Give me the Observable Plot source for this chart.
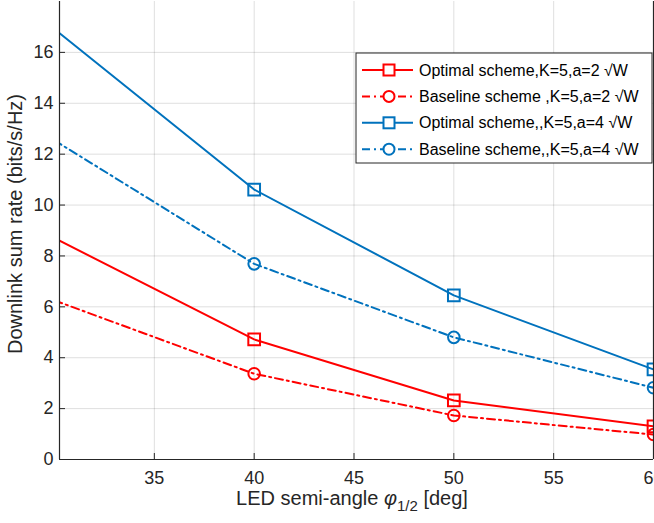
<!DOCTYPE html>
<html><head><meta charset="utf-8">
<script src="https://cdn.jsdelivr.net/npm/d3@7"></script>
<script src="https://cdn.jsdelivr.net/npm/@observablehq/plot@0.6"></script>
<style>
body{margin:0;background:#fff}
svg{font-family:"Liberation Sans",Arial,Helvetica,sans-serif}
</style>
</head><body><div id="chart"></div>
<script>
// LED semi-angle (deg)
const angles = [30, 40, 50, 60];
// Downlink sum rate (bits/s/Hz)
const optimalA2  = [8.70, 4.72, 2.32, 1.30];
const baselineA2 = [6.25, 3.37, 1.73, 0.98];
const optimalA4  = [16.91, 10.61, 6.45, 3.54];
const baselineA4 = [12.54, 7.69, 4.80, 2.82];
const seriesNames = [
  "Optimal scheme,K=5,a=2 \u221AW",
  "Baseline scheme ,K=5,a=2 \u221AW",
  "Optimal scheme,,K=5,a=4 \u221AW",
  "Baseline scheme,,K=5,a=4 \u221AW"
];
const xTicks = [35, 40, 45, 50, 55, 60];
const yTicks = [0, 2, 4, 6, 8, 10, 12, 14, 16];
const xDomain = [30.25, 60];
const yDomain = [0, 18];

const RED = "#ff0000", BLUE = "#0072bd", DASHDOT = "8,4,2,4";
const series = [
  {name: seriesNames[0], values: optimalA2,  color: RED,  dash: null,    symbol: "square"},
  {name: seriesNames[1], values: baselineA2, color: RED,  dash: DASHDOT, symbol: "circle"},
  {name: seriesNames[2], values: optimalA4,  color: BLUE, dash: null,    symbol: "square"},
  {name: seriesNames[3], values: baselineA4, color: BLUE, dash: DASHDOT, symbol: "circle"}
];
const rows = series.map(s => angles.map((x, j) => ({x, y: s.values[j]})));

const marks = [
  Plot.gridX(xTicks, {stroke: "#000", strokeOpacity: 0.13, strokeWidth: 1}),
  Plot.gridY(yTicks.filter(d => d > 0), {stroke: "#000", strokeOpacity: 0.13, strokeWidth: 1})
];
series.forEach((s, i) => {
  marks.push(Plot.line(rows[i], {x: "x", y: "y", stroke: s.color, strokeWidth: 2,
    strokeDasharray: s.dash, clip: true}));
  marks.push(Plot.dot(rows[i].filter(d => d.x >= xDomain[0]), {x: "x", y: "y", symbol: s.symbol,
    r: s.symbol === "square" ? 6.6 : 5.8, stroke: s.color, strokeWidth: 2, fill: "none"}));
});
marks.push(
  Plot.ruleX(xDomain, {stroke: "#262626", strokeWidth: 1.2}),
  Plot.ruleY([yDomain[0]], {stroke: "#262626", strokeWidth: 1.2}),
  Plot.axisX(xTicks, {tickSize: -6, tickPadding: 18, fontSize: 18, label: null}),
  Plot.axisY(yTicks, {tickSize: -6, tickPadding: 12, fontSize: 18, label: null})
);

const chart = Plot.plot({
  width: 654, height: 523,
  marginLeft: 59, marginRight: 1, marginTop: 1, marginBottom: 64,
  x: {domain: xDomain},
  y: {domain: yDomain},
  style: {fontFamily: "'Liberation Sans', Arial, sans-serif", fontSize: "18px", color: "#262626", background: "#fff"},
  marks
});
document.getElementById("chart").appendChild(chart);

const svg = d3.select(chart);
const xr = chart.scale("x").range, yr = chart.scale("y").range;
const cx = (xr[0] + xr[1]) / 2, cy = (yr[0] + yr[1]) / 2;

// x label with subscript
const xl = svg.append("text").attr("x", cx - 4).attr("y", 505)
  .attr("text-anchor", "middle").attr("fill", "#262626").style("font-size", "20px");
xl.append("tspan").text("LED semi-angle ");
xl.append("tspan").attr("font-style", "italic").text("\u03C6");
xl.append("tspan").attr("font-size", "15px").attr("dy", 6).text("1/2");
xl.append("tspan").attr("dy", -6).text(" [deg]");

// y label
svg.append("text").attr("transform", `translate(22,${cy - 6}) rotate(-90)`)
  .attr("text-anchor", "middle").attr("fill", "#262626").style("font-size", "20px")
  .text("Downlink sum rate (bits/s/Hz)");

// legend
const lx = 356, ly = 53, lw = 296, lh = 110;
const lg = svg.append("g").attr("text-anchor", "start");
lg.append("rect").attr("x", lx).attr("y", ly).attr("width", lw).attr("height", lh)
  .attr("fill", "#fff").attr("stroke", "#262626").attr("stroke-width", 1);
series.forEach((s, i) => {
  const y = ly + 17 + i * 26.4;
  lg.append("line").attr("x1", lx + 6).attr("x2", lx + 57).attr("y1", y).attr("y2", y)
    .attr("stroke", s.color).attr("stroke-width", 2).attr("stroke-dasharray", s.dash);
  if (s.symbol === "square") {
    lg.append("rect").attr("x", lx + 33 - 5.5).attr("y", y - 5.5).attr("width", 11).attr("height", 11)
      .attr("fill", "#fff").attr("stroke", s.color).attr("stroke-width", 2);
  } else {
    lg.append("circle").attr("cx", lx + 33).attr("cy", y).attr("r", 5.5)
      .attr("fill", "#fff").attr("stroke", s.color).attr("stroke-width", 2);
  }
  lg.append("text").attr("x", lx + 63).attr("y", y).attr("dy", "0.35em")
    .attr("text-anchor", "start").attr("fill", "#000").style("font-size", "16px").text(s.name);
});
</script>
</body></html>
